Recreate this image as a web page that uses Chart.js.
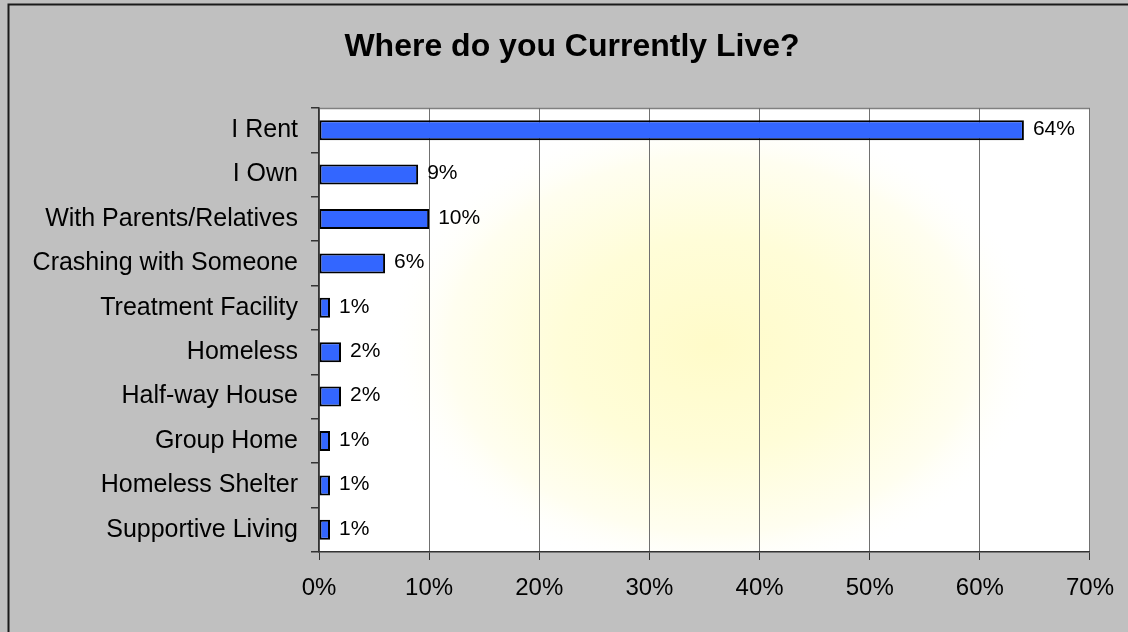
<!DOCTYPE html>
<html>
<head>
<meta charset="utf-8">
<script src="https://cdn.jsdelivr.net/npm/chart.js@4/dist/chart.umd.min.js"></script>
<style>
  html, body { margin: 0; padding: 0; background: #c0c0c0; }
  #wrap { width: 1128px; height: 632px; position: relative; }
</style>
</head>
<body>
<div id="wrap"><canvas id="c" width="1128" height="632"></canvas></div>
<script>
const chartTitle = "Where do you Currently Live?";
const categories = ["I Rent", "I Own", "With Parents/Relatives", "Crashing with Someone", "Treatment Facility", "Homeless", "Half-way House", "Group Home", "Homeless Shelter", "Supportive Living"];
const values = [64, 9, 10, 6, 1, 2, 2, 1, 1, 1];
const xTicks = [0, 10, 20, 30, 40, 50, 60, 70];

const FONT = "'Liberation Sans', Arial, sans-serif";

const backgroundPlugin = {
  id: 'bgPlugin',
  beforeDraw(chart) {
    const ctx = chart.ctx;
    const a = chart.chartArea;
    ctx.save();
    ctx.fillStyle = '#c0c0c0';
    ctx.fillRect(0, 0, chart.width, chart.height);
    ctx.strokeStyle = '#1a1a1a';
    ctx.lineWidth = 2;
    ctx.strokeRect(8.5, 4.5, chart.width + 20, chart.height + 20);
    // plot area
    ctx.fillStyle = '#ffffff';
    ctx.fillRect(a.left, a.top, a.right - a.left, a.bottom - a.top);
    ctx.beginPath();
    ctx.rect(a.left, a.top, a.right - a.left, a.bottom - a.top);
    ctx.clip();
    const cx = 712, cy = 345;
    ctx.translate(cx, cy);
    ctx.scale(1.4, 1);
    const g = ctx.createRadialGradient(0, 0, 0, 0, 0, 235);
    g.addColorStop(0, '#fffbc9');
    g.addColorStop(0.45, '#fffdd8');
    g.addColorStop(0.8, '#fffef0');
    g.addColorStop(1, 'rgba(255,255,255,0)');
    ctx.fillStyle = g;
    ctx.fillRect(-400, -300, 800, 600);
    ctx.restore();
    // plot border top (gray)
    ctx.save();
    ctx.strokeStyle = '#808080';
    ctx.lineWidth = 1.5;
    ctx.beginPath();
    ctx.moveTo(a.left, a.top + 0.5);
    ctx.lineTo(a.right, a.top + 0.5);
    ctx.stroke();
    ctx.restore();
  },
  afterDraw(chart) {
    const ctx = chart.ctx;
    ctx.save();
    ctx.fillStyle = '#000';
    ctx.font = 'bold 32px ' + FONT;
    ctx.textAlign = 'center';
    ctx.textBaseline = 'alphabetic';
    ctx.fillText(chartTitle, 572, 56);
    ctx.restore();
  }
};

const labelPlugin = {
  id: 'valueLabels',
  afterDatasetsDraw(chart) {
    const ctx = chart.ctx;
    const meta = chart.getDatasetMeta(0);
    ctx.save();
    ctx.fillStyle = '#000';
    ctx.font = '21px ' + FONT;
    ctx.textAlign = 'left';
    ctx.textBaseline = 'middle';
    meta.data.forEach((bar, i) => {
      ctx.fillText(Math.round(values[i]) + '%', bar.x + 9, bar.y - 1);
    });
    ctx.restore();
  }
};

new Chart(document.getElementById('c'), {
  type: 'bar',
  data: {
    labels: categories,
    datasets: [{
      data: values,
      backgroundColor: '#3366ff',
      borderColor: '#000000',
      borderWidth: 2,
      borderSkipped: false,
      barPercentage: 0.45,
      categoryPercentage: 1.0
    }]
  },
  options: {
    indexAxis: 'y',
    responsive: false,
    animation: false,
    events: [],
    layout: { padding: { top: 108, right: 37, left: 0, bottom: 0 } },
    plugins: {
      legend: { display: false },
      title: { display: false },
      tooltip: { enabled: false }
    },
    scales: {
      x: {
        type: 'linear',
        min: 0,
        max: 70,
        afterBuildTicks(scale) { scale.ticks = xTicks.map(v => ({ value: v })); },
        afterFit(scale) { scale.height = 80; },
        ticks: {
          callback: v => v + '%',
          color: '#000',
          font: { family: FONT, size: 24 },
          padding: 14,
          maxRotation: 0
        },
        grid: {
          color: '#707070',
          lineWidth: 1,
          tickColor: '#333',
          tickLength: 8,
          drawTicks: true
        },
        border: { color: '#333', width: 1.5 }
      },
      y: {
        type: 'category',
        afterFit(scale) { scale.width = 319; },
        ticks: {
          color: '#000',
          font: { family: FONT, size: 25 },
          padding: 13
        },
        grid: {
          offset: true,
          drawOnChartArea: false,
          drawTicks: true,
          tickLength: 8,
          tickColor: '#333',
          lineWidth: 1.5
        },
        border: { color: '#333', width: 1.5 }
      }
    }
  },
  plugins: [backgroundPlugin, labelPlugin]
});
</script>
</body>
</html>
